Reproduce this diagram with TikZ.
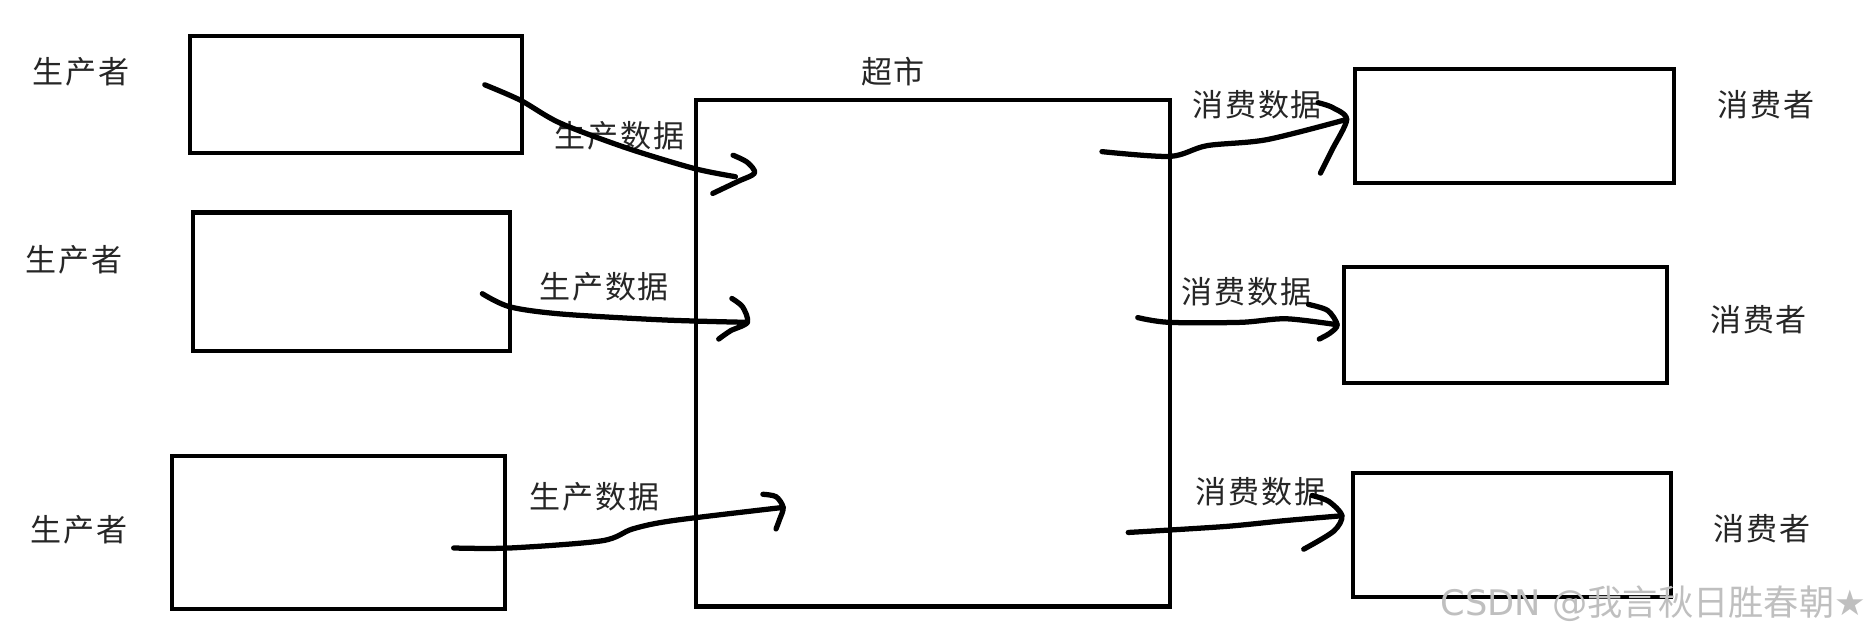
\documentclass[tikz,border=0pt]{standalone}
\usepackage{fontspec}
\setmainfont{Noto Sans CJK SC}
\newfontfamily\cjk[LetterSpace=6]{Noto Sans CJK SC}
\newfontfamily\cjkwm{Noto Sans CJK SC}
\newfontfamily\dejavu{DejaVu Sans}
\usetikzlibrary{calc}
\begin{document}
\begin{tikzpicture}[x=1pt,y=-1pt,
  boxnode/.style={draw=black,line width=3.4pt,inner sep=0pt},
  lbl/.style={font=\cjk\fontsize{26}{29}\selectfont,text=black!85,inner sep=0pt},
  flow/.style={line width=4.4pt,line cap=round,line join=round},
  wm/.style={font=\fontsize{29.5}{32}\selectfont,text=black!25,inner sep=0pt}]
\useasboundingbox (0,0) rectangle (1568,533);
\fill[white] (0,0) rectangle (1568,533);
% producer boxes
\node[boxnode,minimum width=278pt,minimum height=98pt] (p1) at (298,79) {};
\node[boxnode,minimum width=265pt,minimum height=116pt] (p2) at (294.5,236) {};
\node[boxnode,minimum width=279pt,minimum height=128pt] (p3) at (283.5,446) {};
% supermarket
\node[boxnode,minimum width=397pt,minimum height=424pt] (sm) at (781.5,296) {};
% consumer boxes
\node[boxnode,minimum width=267pt,minimum height=95pt] (c1) at (1268.5,105.5) {};
\node[boxnode,minimum width=270pt,minimum height=97pt] (c2) at (1261,272.5) {};
\node[boxnode,minimum width=267pt,minimum height=104pt] (c3) at (1266.5,448) {};
% labels
\node[lbl] (lp1) at (68,60) {生产者};
\node[lbl] (lp2) at (62,218) {生产者};
\node[lbl] (lp3) at (66,444) {生产者};
\node[lbl] (lsm) at (748,60) {超市};
\node[lbl] (lc1) at (1479,88) {消费者};
\node[lbl] (lc2) at (1473,268) {消费者};
\node[lbl] (lc3) at (1476,443) {消费者};
\node[lbl] (d1) at (519,114) {生产数据};
\node[lbl] (d2) at (506,240) {生产数据};
\node[lbl] (d3) at (498,416) {生产数据};
\node[lbl] (e1) at (1053,88) {消费数据};
\node[lbl] (e2) at (1044,244) {消费数据};
\node[lbl] (e3) at (1056,412) {消费数据};
% connector end points
\coordinate (a1s) at (406,71);  \coordinate (a1t) at (632,145);
\coordinate (a2s) at (404,246); \coordinate (a2t) at (626,270);
\coordinate (a3s) at (380,459); \coordinate (a3t) at (656,425);
\coordinate (b1s) at (923,127); \coordinate (b1t) at (1128,100);
\coordinate (b2s) at (953,266); \coordinate (b2t) at (1120,272);
\coordinate (b3s) at (945,446); \coordinate (b3t) at (1124,432);
% producer -> supermarket
\draw[flow] plot[smooth,tension=0.5] coordinates {(a1s) (436,84) (469,103) (525,124) (581,141) (616,148)};
\draw[flow] plot[smooth,tension=0.5] coordinates {(614,130) (626,136) (a1t) (618,152) (597,162)};
\draw[flow] plot[smooth,tension=0.5] coordinates {(a2s) (427,257) (470,263) (556,268) (a2t)};
\draw[flow] plot[smooth,tension=0.5] coordinates {(613,250) (622,257) (a2t) (612,277) (602,284)};
\draw[flow] plot[smooth,tension=0.5] coordinates {(a3s) (427,459) (504,453) (530,443) (564,436) (a3t)};
\draw[flow] plot[smooth,tension=0.5] coordinates {(639,414) (650,416) (a3t) (653,435) (650,443)};
% supermarket -> consumers
\draw[flow] plot[smooth,tension=0.5] coordinates {(b1s) (980,131) (1011,122) (1061,117) (b1t)};
\draw[flow] plot[smooth,tension=0.5] coordinates {(1104,86) (1116,90) (b1t) (1116,125) (1106,145)};
\draw[flow] plot[smooth,tension=0.5] coordinates {(b2s) (979,270) (1039,270) (1077,267) (b2t)};
\draw[flow] plot[smooth,tension=0.5] coordinates {(1096,255) (1112,260) (b2t) (1114,279) (1105,284)};
\draw[flow] plot[smooth,tension=0.5] coordinates {(b3s) (1026,441) (1077,436) (b3t)};
\draw[flow] plot[smooth,tension=0.5] coordinates {(1099,415) (1113,420) (b3t) (1117,445) (1092,460)};
% watermark
\node[wm,anchor=east] (wmk) at (1563,506) {\dejavu CSDN @\cjkwm 我言秋日胜春朝\dejavu ★};
\end{tikzpicture}
\end{document}
